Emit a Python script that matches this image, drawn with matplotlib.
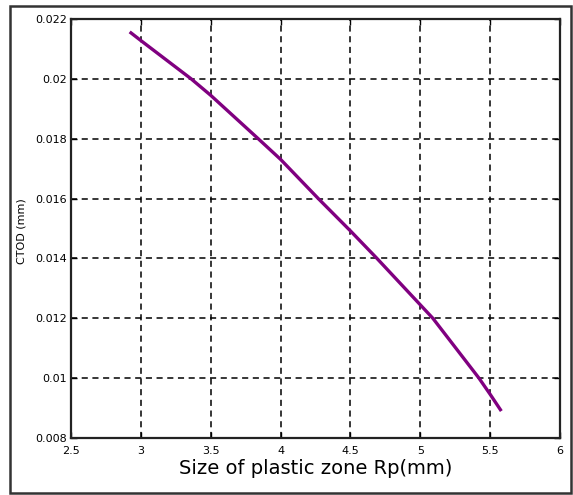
import matplotlib
matplotlib.use("Agg")
import matplotlib.pyplot as plt
from matplotlib.patches import Rectangle

# CTOD against plastic zone size
rp_mm = [2.92, 3.00, 3.36, 3.50, 3.84, 4.00, 4.27, 4.50, 4.69,
         5.00, 5.09, 5.42, 5.50, 5.58]
ctod_mm = [0.02157, 0.02128, 0.0200, 0.01945, 0.0180, 0.01731, 0.0160,
           0.01492, 0.0140, 0.01245, 0.0120, 0.0100, 0.00946, 0.0089]

x_ticks = [2.5, 3.0, 3.5, 4.0, 4.5, 5.0, 5.5, 6.0]
x_tick_labels = ["2.5", "3", "3.5", "4", "4.5", "5", "5.5", "6"]
y_ticks = [0.008, 0.010, 0.012, 0.014, 0.016, 0.018, 0.020, 0.022]
y_tick_labels = ["0.008", "0.01", "0.012", "0.014", "0.016", "0.018", "0.02", "0.022"]

W, H = 573, 495
fig = plt.figure(figsize=(W / 100, H / 100), dpi=100)
fig.patch.set_facecolor("white")

ax = fig.add_axes([71 / W, 57 / H, 489 / W, 419 / H])
ax.plot(rp_mm, ctod_mm, color="#800080", linewidth=2.4,
        solid_joinstyle="round", solid_capstyle="butt")

ax.set_xlim(2.5, 6.0)
ax.set_ylim(0.008, 0.022)
ax.set_xticks(x_ticks)
ax.set_xticklabels(x_tick_labels)
ax.set_yticks(y_ticks)
ax.set_yticklabels(y_tick_labels)

ax.grid(True, color="black", linestyle=(0, (4, 3)), linewidth=1.1)
ax.tick_params(axis="both", direction="in", length=4, width=1,
               top=True, right=True, labelsize=8, colors="black")
ax.tick_params(axis="x", pad=6)
ax.tick_params(axis="y", pad=3)
for spine in ax.spines.values():
    spine.set_linewidth(1.6)
    spine.set_color("#222222")

ax.set_xlabel("Size of plastic zone Rp(mm)", fontsize=14, labelpad=2)
fig.text(22 / W, (H - 231) / H, "CTOD (mm)", rotation=90, fontsize=8,
         ha="center", va="center")

# outer frame around the whole figure
fig.patches.append(Rectangle((10 / W, 2 / H), 561 / W, 487 / H,
                             transform=fig.transFigure, fill=False,
                             edgecolor="#333333", linewidth=1.8))

fig.savefig("out.png", dpi=100)
